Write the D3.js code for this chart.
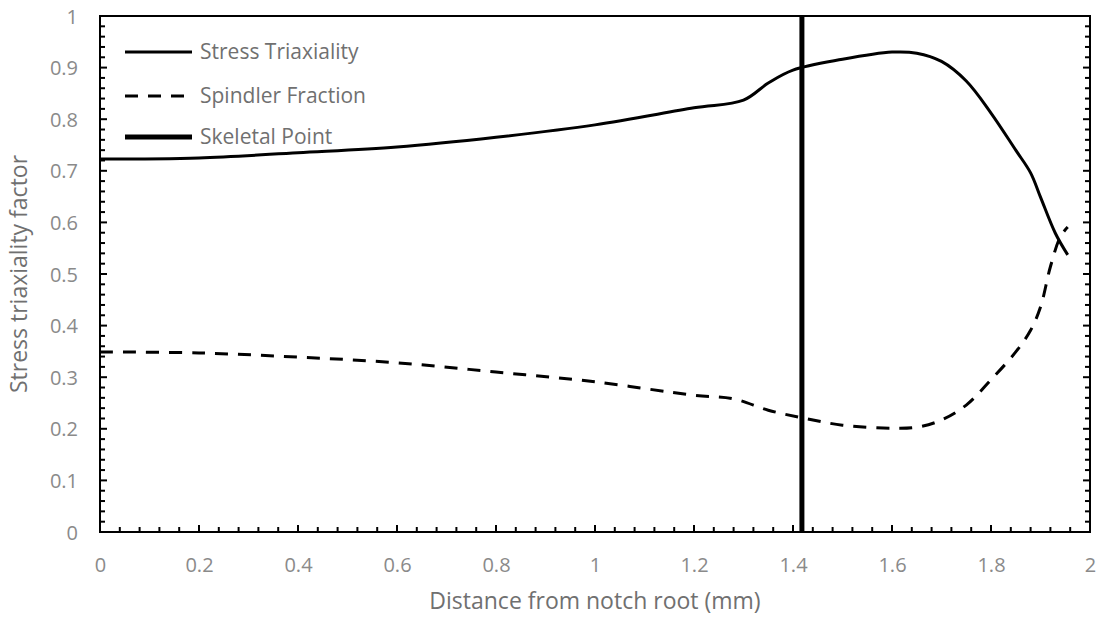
<!DOCTYPE html>
<html><head><meta charset="utf-8">
<script src="https://cdn.jsdelivr.net/npm/d3@7"></script>
<style>body{margin:0;background:#fff}svg{display:block}text{font-family:"Open Sans",Lato,sans-serif}</style>
</head><body><svg id="c" width="1100" height="618"></svg>
<script>
const stressX = [0,0.2,0.4,0.6,0.8,1.0,1.2,1.3,1.35,1.4,1.5,1.6,1.65,1.7,1.75,1.8,1.85,1.88,1.9,1.93,1.955];
const stressY = [0.723,0.725,0.735,0.746,0.765,0.789,0.822,0.837,0.870,0.895,0.916,0.930,0.928,0.912,0.874,0.812,0.740,0.696,0.649,0.579,0.537];
const spindX = [0,0.2,0.4,0.6,0.8,1.0,1.2,1.28,1.35,1.42,1.5,1.6,1.65,1.7,1.75,1.8,1.85,1.88,1.9,1.92,1.94,1.955];
const spindY = [0.349,0.347,0.339,0.328,0.310,0.291,0.265,0.258,0.236,0.221,0.207,0.201,0.203,0.217,0.246,0.295,0.349,0.391,0.436,0.514,0.572,0.591];
const skeletalX = 1.418;
const xTicks = [0,0.2,0.4,0.6,0.8,1,1.2,1.4,1.6,1.8,2];
const yTicks = [0,0.1,0.2,0.3,0.4,0.5,0.6,0.7,0.8,0.9,1];
const legendLabels = ["Stress Triaxiality","Spindler Fraction","Skeletal Point"];

const svg = d3.select("#c");
const L=100,R=1090,T=16,B=532;
const x = d3.scaleLinear().domain([0,2]).range([L,R]);
const y = d3.scaleLinear().domain([0,1]).range([B,T]);
const grey="#8a8a8a";

const xMinor = d3.range(0,2.0001,0.04);
const yMinor = d3.range(0,1.0001,0.02);
const g = svg.append("g");
g.selectAll(".xm").data(xMinor).enter().append("line")
 .attr("x1",d=>x(d)).attr("x2",d=>x(d)).attr("y1",B).attr("y2",d=>B-(Math.abs(d*5-Math.round(d*5))<1e-6?7:5))
 .attr("stroke","#000").attr("stroke-width",2);
g.selectAll(".yl").data(yMinor).enter().append("line")
 .attr("y1",d=>y(d)).attr("y2",d=>y(d)).attr("x1",L).attr("x2",d=>L+(Math.abs(d*10-Math.round(d*10))<1e-6?7:5))
 .attr("stroke","#000").attr("stroke-width",2);
g.selectAll(".yr").data(yMinor).enter().append("line")
 .attr("y1",d=>y(d)).attr("y2",d=>y(d)).attr("x1",R).attr("x2",d=>R-(Math.abs(d*10-Math.round(d*10))<1e-6?7:5))
 .attr("stroke","#000").attr("stroke-width",2);

svg.append("rect").attr("x",L).attr("y",T).attr("width",R-L).attr("height",B-T)
 .attr("fill","none").attr("stroke","#000").attr("stroke-width",2);

const xAxis = d3.axisBottom(x).tickValues(xTicks).tickSize(0).tickPadding(0).tickFormat(d3.format("~g"));
const xa = svg.append("g").attr("transform",`translate(0,${B})`).call(xAxis);
xa.select(".domain").remove();
xa.selectAll("text").attr("fill",grey).attr("font-size",20).attr("dy",null).attr("y",40);
const yAxis = d3.axisLeft(y).tickValues(yTicks).tickSize(0).tickPadding(0).tickFormat(d3.format("~g"));
const ya = svg.append("g").attr("transform",`translate(78,0)`).call(yAxis);
ya.select(".domain").remove();
ya.selectAll("text").attr("fill",grey).attr("font-size",20).attr("dy","0.35em");

svg.append("text").attr("x",(L+R)/2).attr("y",609).attr("text-anchor","middle")
 .attr("fill","#707070").attr("font-size",23).text("Distance from notch root (mm)");
svg.append("text").attr("transform",`translate(27,${(T+B)/2}) rotate(-90)`).attr("text-anchor","middle")
 .attr("fill","#707070").attr("font-size",23).text("Stress triaxiality factor");

const line = d3.line().x(d=>x(d[0])).y(d=>y(d[1])).curve(d3.curveCatmullRom.alpha(0.5));
svg.append("path").datum(stressX.map((v,i)=>[v,stressY[i]])).attr("d",line)
 .attr("fill","none").attr("stroke","#000").attr("stroke-width",3);
svg.append("path").datum(spindX.map((v,i)=>[v,spindY[i]])).attr("d",line)
 .attr("fill","none").attr("stroke","#000").attr("stroke-width",3).attr("stroke-dasharray","13,10");
svg.append("line").attr("x1",x(skeletalX)).attr("x2",x(skeletalX)).attr("y1",T).attr("y2",B)
 .attr("stroke","#000").attr("stroke-width",5);

const ly=[52,96,137], lw=[3,3,5], ld=[null,"13,10",null];
legendLabels.forEach((t,i)=>{
 svg.append("line").attr("x1",125).attr("x2",192).attr("y1",ly[i]).attr("y2",ly[i])
  .attr("stroke","#000").attr("stroke-width",lw[i]).attr("stroke-dasharray",ld[i]);
 svg.append("text").attr("x",200).attr("y",ly[i]).attr("dy","0.35em").attr("fill","#707070")
  .attr("font-size",21).text(t);
});
</script></body></html>
